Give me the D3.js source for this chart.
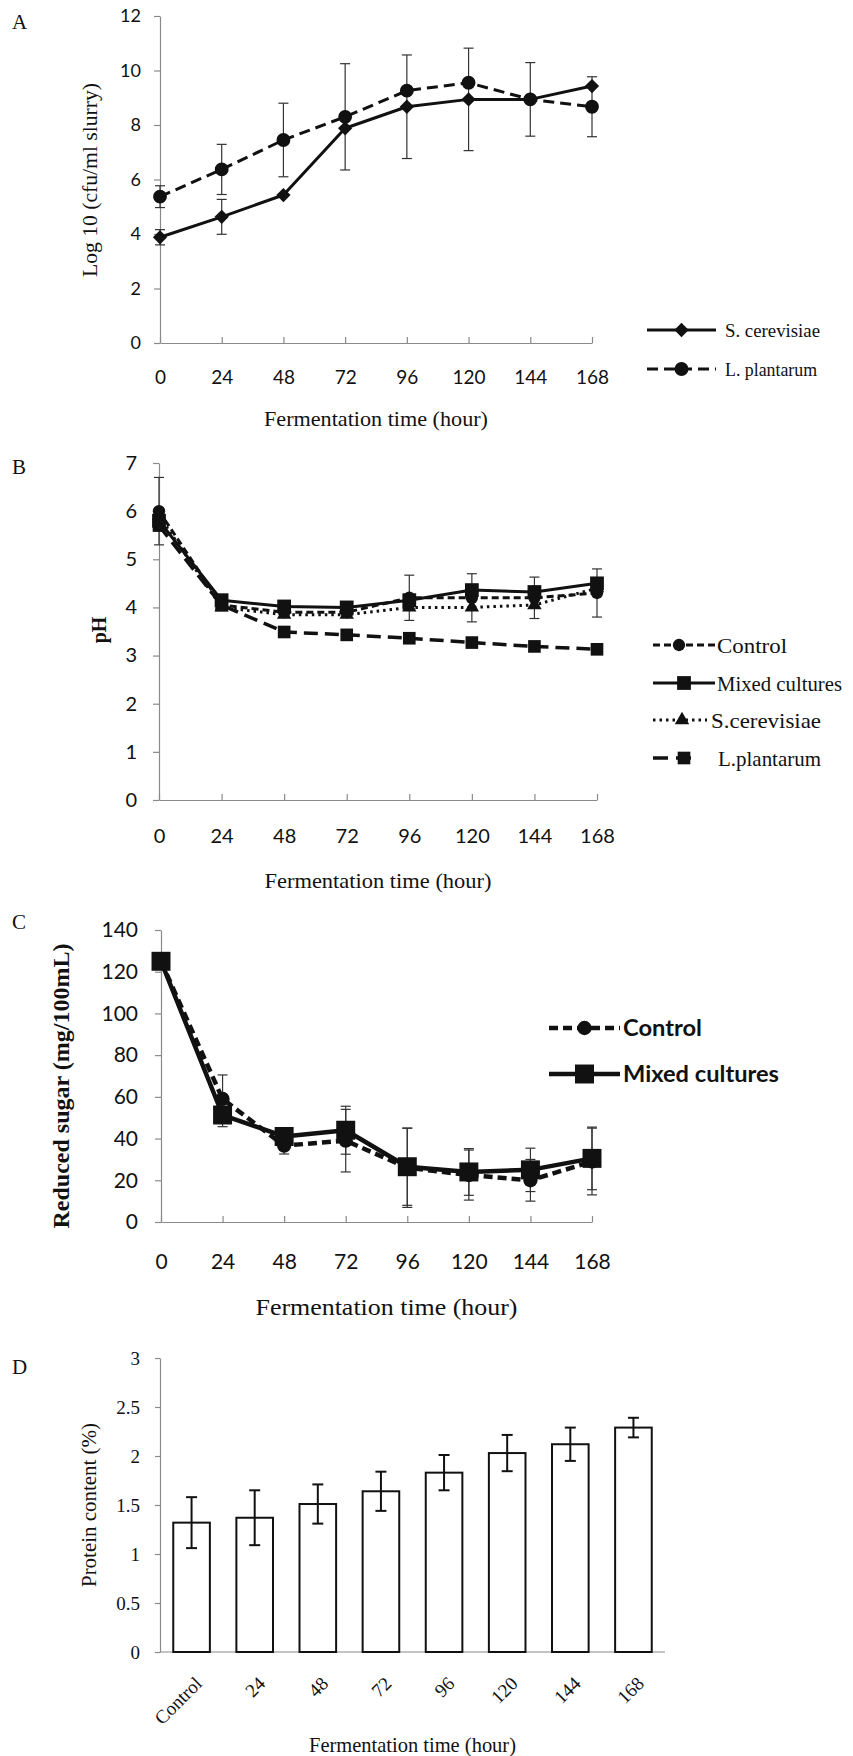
<!DOCTYPE html>
<html>
<head>
<meta charset="utf-8">
<script src="https://cdn.jsdelivr.net/npm/d3@7"></script>
<style>
  body { margin: 0; background: #fff; }
  svg { display: block; }
</style>
</head>
<body>
<svg id="fig" width="853" height="1756"></svg>
<script>
// ---- data ----
const hours = [0, 24, 48, 72, 96, 120, 144, 168];

// A: viable counts, log10 cfu/ml slurry
const countTicks = [0, 2, 4, 6, 8, 10, 12];
const countScer = [3.88, 4.63, 5.43, 7.88, 8.67, 8.94, 8.94, 9.43];
const countLpla = [5.37, 6.37, 7.45, 8.30, 9.26, 9.55, 8.94, 8.67];
const countScerSd = [0.28, 0.64, 0, 0, 1.9, 1.88, 1.35, 0];
const countLplaSd = [0.4, 0.92, 1.35, 1.95, 0, 0, 0, 1.1];

// B: pH
const phTicks = [0, 1, 2, 3, 4, 5, 6, 7];
const phControl = [6.0, 4.05, 3.9, 3.9, 4.2, 4.2, 4.2, 4.3];
const phMixed = [5.8, 4.15, 4.02, 4.0, 4.15, 4.36, 4.32, 4.5];
const phScer = [5.9, 4.0, 3.85, 3.85, 4.0, 4.0, 4.05, 4.4];
const phLpla = [5.7, 4.05, 3.49, 3.43, 3.36, 3.27, 3.19, 3.13];
const phControlSd = [0.7, 0, 0, 0, 0.47, 0.5, 0.43, 0.5];

// C: reduced sugar mg/100mL
const sugarTicks = [0, 20, 40, 60, 80, 100, 120, 140];
const sugarControl = [125, 59, 36.6, 39, 26, 22.5, 20, 29];
const sugarMixed = [125, 51.3, 41, 44, 26.5, 24, 25, 30.5];
const sugarControlSd = [0, 11.5, 4, 15, 19, 12, 10, 16];
const sugarMixedSd = [0, 5.6, 2, 11.5, 18.5, 11.2, 10.4, 15];

// D: protein content %
const proteinTicks = [0, 0.5, 1, 1.5, 2, 2.5, 3];
const proteinLabels = ["Control", "24", "48", "72", "96", "120", "144", "168"];
const protein = [1.32, 1.37, 1.51, 1.64, 1.83, 2.03, 2.12, 2.29];
const proteinSd = [0.26, 0.28, 0.2, 0.2, 0.18, 0.185, 0.17, 0.1];

// ---- styling ----
const ink = "#111";
const axisGrey = "#8a8a8a";
const SERIF = '"Liberation Serif", "Times New Roman", serif';
const SANS = 'Lato, "Open Sans", sans-serif';

const svg = d3.select("#fig");

function sym(type, size) {
  if (type === "diamond") return d3.symbol(d3.symbolDiamond2 || d3.symbolDiamond, size)();
  if (type === "square") return d3.symbol(d3.symbolSquare, size)();
  if (type === "triangle") return d3.symbol(d3.symbolTriangle, size)();
  return d3.symbol(d3.symbolCircle, size)();
}

function styleAxis(a, family, size) {
  a.attr("font-family", null).attr("font-size", null);
  a.selectAll("path, line").attr("stroke", axisGrey).attr("stroke-width", 1.2);
  a.selectAll("text").attr("fill", ink).style("font-family", family).style("font-size", size + "px");
}

function text(g, str, x, y, o) {
  const t = g.append("text").text(str)
    .attr("x", x).attr("y", y)
    .attr("fill", ink)
    .style("font-family", o.family || SERIF)
    .style("font-size", o.size + "px")
    .style("font-weight", o.bold ? "bold" : "normal")
    .attr("text-anchor", o.anchor || "start");
  if (o.len) t.attr("textLength", o.len).attr("lengthAdjust", "spacingAndGlyphs");
  if (o.rotate) t.attr("transform", `rotate(${o.rotate},${x},${y})`);
  if (o.dy) t.attr("dy", o.dy);
  return t;
}

function linePanel(p) {
  const x = d3.scaleLinear().domain([0, 168]).range([p.x0, p.x1]);
  const y = d3.scaleLinear().domain([0, p.yMax]).range([p.yBot, p.yTop]);
  const g = svg.append("g");

  const ya = g.append("g").attr("transform", `translate(${p.x0},0)`)
    .call(d3.axisLeft(y).tickValues(p.yTicks).tickFormat(d3.format("")).tickSize(6).tickSizeOuter(0).tickPadding(p.yPad));
  styleAxis(ya, SANS, p.yFont);
  const xa = g.append("g").attr("transform", `translate(0,${p.yBot})`)
    .call(d3.axisBottom(x).tickValues(hours).tickFormat(d3.format("")).tickSize(-6).tickSizeOuter(0).tickPadding(p.xPad));
  styleAxis(xa, SANS, p.xFont);

  // error bars under the lines
  p.series.forEach(s => {
    if (!s.sd) return;
    s.values.forEach((v, i) => {
      const e = s.sd[i];
      if (!e) return;
      const cx = x(hours[i]);
      g.append("line").attr("x1", cx).attr("x2", cx)
        .attr("y1", y(v - e)).attr("y2", y(v + e))
        .attr("stroke", "#333").attr("stroke-width", 1.2);
      [v - e, v + e].forEach(w => {
        g.append("line").attr("x1", cx - p.cap).attr("x2", cx + p.cap)
          .attr("y1", y(w)).attr("y2", y(w))
          .attr("stroke", "#333").attr("stroke-width", 1.2);
      });
    });
  });

  const line = d3.line().x((d, i) => x(hours[i])).y(d => y(d));
  p.series.forEach(s => {
    g.append("path").datum(s.values).attr("d", line)
      .attr("fill", "none").attr("stroke", ink)
      .attr("stroke-width", s.width)
      .attr("stroke-dasharray", s.dash || null)
      .attr("stroke-linejoin", "round");
  });
  p.series.forEach(s => {
    g.selectAll(null).data(s.values).join("path")
      .attr("d", sym(s.marker, s.size))
      .attr("transform", (d, i) => `translate(${x(hours[i])},${y(d)})`)
      .attr("fill", ink);
  });

  // legend
  p.series.forEach((s, i) => {
    const ly = p.legend.ys[i];
    g.append("line").attr("x1", p.legend.x0).attr("x2", s.legX1 || p.legend.x1)
      .attr("y1", ly).attr("y2", ly)
      .attr("stroke", ink).attr("stroke-width", s.width)
      .attr("stroke-dasharray", s.legDash || s.dash || null);
    g.append("path").attr("d", sym(s.marker, s.size))
      .attr("transform", `translate(${s.legMx || (p.legend.x0 + p.legend.x1) / 2},${ly})`)
      .attr("fill", ink);
    text(g, s.name, s.legTx || p.legend.tx, ly, {
      family: p.legend.family, size: p.legend.size, bold: p.legend.bold,
      dy: "0.35em", len: s.legLen
    });
  });

  // titles
  const xt = p.xTitle;
  text(g, "Fermentation time (hour)", (p.x0 + p.x1) / 2 + (xt.shift || 0), xt.y,
    { size: xt.size, anchor: "middle", dy: "0.35em", len: xt.len });
  const yt = p.yTitle;
  text(g, yt.label, yt.x, yt.y,
    { size: yt.size, anchor: "middle", dy: "0.35em", rotate: -90, len: yt.len, bold: yt.bold });
  text(g, p.letter, 12, p.letterY, { size: 21 });
}

// ---- A ----
linePanel({
  letter: "A", letterY: 29,
  x0: 160, x1: 592, yTop: 16, yBot: 343, yMax: 12, yTicks: countTicks,
  yPad: 13, yFont: 18, xPad: 28, xFont: 19, cap: 5,
  series: [
    { name: "S. cerevisiae", values: countScer, sd: countScerSd, width: 3, marker: "diamond", size: 130, legLen: 95 },
    { name: "L. plantarum", values: countLpla, sd: countLplaSd, width: 3, dash: "11,6", marker: "circle", size: 150, legLen: 92 }
  ],
  legend: { x0: 647, x1: 716, tx: 725, ys: [330, 369], size: 19, family: SERIF },
  xTitle: { y: 419, size: 21, len: 224 },
  yTitle: { label: "Log 10 (cfu/ml slurry)", x: 90, y: 180, size: 20, len: 194 }
});

// ---- B ----
linePanel({
  letter: "B", letterY: 474,
  x0: 159, x1: 597, yTop: 463, yBot: 800, yMax: 7, yTicks: phTicks,
  yPad: 16, yFont: 20, xPad: 29, xFont: 20, cap: 5,
  series: [
    { name: "Control", values: phControl, sd: phControlSd, width: 3, dash: "7,4", marker: "circle", size: 120, legLen: 70, legMx: 679 },
    { name: "Mixed cultures", values: phMixed, width: 3, marker: "square", size: 190, legLen: 125 },
    { name: "S.cerevisiae", values: phScer, width: 3, dash: "2.5,4", marker: "triangle", size: 90, legLen: 110, legX1: 707, legTx: 711, legMx: 682 },
    { name: "L.plantarum", values: phLpla, width: 3.5, dash: "14,7", marker: "square", size: 160, legLen: 103, legX1: 698, legTx: 718, legDash: "15,8", legMx: 684 }
  ],
  legend: { x0: 653, x1: 715, tx: 717, ys: [645, 683, 720, 758], size: 22, family: SERIF },
  xTitle: { y: 880, size: 22, len: 227 },
  yTitle: { label: "pH", x: 99, y: 630, size: 20, bold: true }
});

// ---- C ----
linePanel({
  letter: "C", letterY: 929,
  x0: 161, x1: 592, yTop: 930, yBot: 1222, yMax: 140, yTicks: sugarTicks,
  yPad: 17, yFont: 21, xPad: 32, xFont: 21, cap: 5,
  series: [
    { name: "Control", values: sugarControl, sd: sugarControlSd, width: 4.5, dash: "9,5", marker: "circle", size: 160, legLen: 79 },
    { name: "Mixed cultures", values: sugarMixed, sd: sugarMixedSd, width: 4.5, marker: "square", size: 360, legLen: 156 }
  ],
  legend: { x0: 549, x1: 620, tx: 623, ys: [1028, 1074], size: 22, family: SANS, bold: true },
  xTitle: { y: 1307, size: 24, len: 262, shift: 10 },
  yTitle: { label: "Reduced sugar (mg/100mL)", x: 61, y: 1086, size: 23, len: 285, bold: true }
});

// ---- D ----
(function () {
  const x0 = 160, x1 = 665, yTop = 1358, yBot = 1652;
  const x = d3.scaleBand().domain(proteinLabels).range([x0, x1]).paddingInner(0.42).paddingOuter(0.21);
  const y = d3.scaleLinear().domain([0, 3]).range([yBot, yTop]);
  const g = svg.append("g");

  const ya = g.append("g").attr("transform", `translate(${x0},0)`)
    .call(d3.axisLeft(y).tickValues(proteinTicks).tickSize(5).tickSizeOuter(0).tickPadding(15)
      .tickFormat(d3.format("")));
  styleAxis(ya, SERIF, 19);
  g.append("line").attr("x1", x0).attr("x2", x1).attr("y1", yBot).attr("y2", yBot)
    .attr("stroke", axisGrey).attr("stroke-width", 1.2);

  g.selectAll(null).data(protein).join("rect")
    .attr("x", (d, i) => x(proteinLabels[i]))
    .attr("width", x.bandwidth())
    .attr("y", d => y(d))
    .attr("height", d => yBot - y(d))
    .attr("fill", "#fff").attr("stroke", ink).attr("stroke-width", 2);

  protein.forEach((v, i) => {
    const cx = x(proteinLabels[i]) + x.bandwidth() / 2;
    const e = proteinSd[i];
    g.append("line").attr("x1", cx).attr("x2", cx).attr("y1", y(v - e)).attr("y2", y(v + e))
      .attr("stroke", ink).attr("stroke-width", 2);
    [v - e, v + e].forEach(w => g.append("line")
      .attr("x1", cx - 5.5).attr("x2", cx + 5.5).attr("y1", y(w)).attr("y2", y(w))
      .attr("stroke", ink).attr("stroke-width", 2));
  });

  proteinLabels.forEach(lab => {
    const cx = x(lab) + x.bandwidth() / 2;
    g.append("text").text(lab)
      .attr("transform", `translate(${cx + 7},1680) rotate(-45)`)
      .attr("text-anchor", "end").attr("dy", "0.35em")
      .attr("fill", ink).style("font-family", SERIF).style("font-size", "19px");
  });

  text(g, "Fermentation time (hour)", (x0 + x1) / 2, 1745, { size: 21, anchor: "middle", dy: "0.35em", len: 207 });
  text(g, "Protein content (%)", 89, 1505, { size: 20, anchor: "middle", dy: "0.35em", rotate: -90, len: 164 });
  text(g, "D", 12, 1374, { size: 21 });
})();
</script>
</body>
</html>
